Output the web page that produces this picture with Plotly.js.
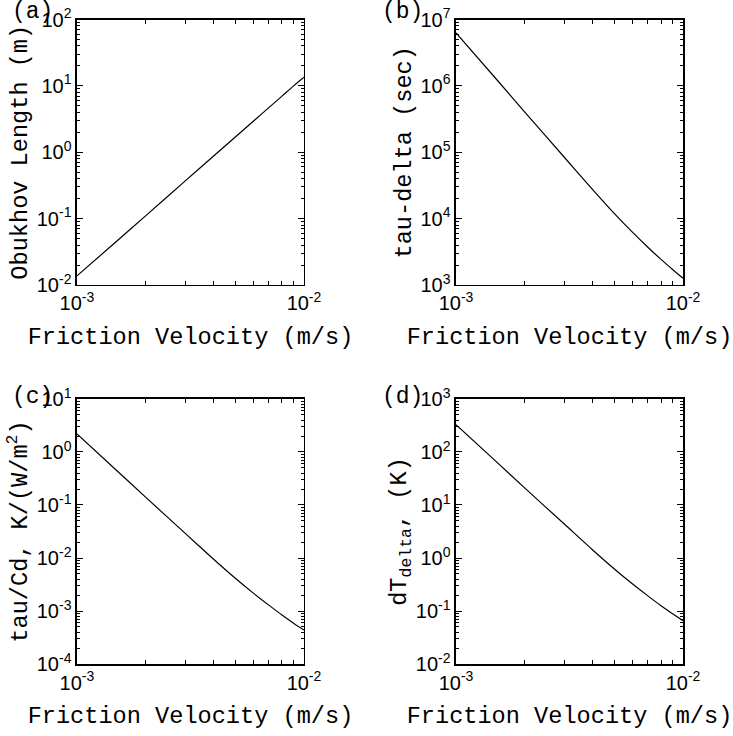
<!DOCTYPE html>
<html>
<head>
<meta charset="utf-8">
<script src="https://cdn.plot.ly/plotly-3.0.1.min.js"></script>
<style>
  body { margin: 0; padding: 0; background: white; }
  #graph { width: 733px; height: 736px; }
</style>
</head>
<body>
<div id="graph"></div>
<script>
// friction velocity (m/s), shared by all four panels
var uStar = [0.001, 0.0015, 0.002, 0.003, 0.004, 0.005, 0.006, 0.007, 0.008, 0.009, 0.01];

// values
var obukhovLength = [0.0137, 0.046, 0.109, 0.37, 0.876, 1.71, 2.96, 4.7, 7.0, 9.99, 13.5];
var tauDelta = [6.3e6, 1.28e6, 4.1e5, 8.4e4, 2.74e4, 1.18e4, 6.2e3, 3.71e3, 2.43e3, 1.71e3, 1.26e3];
var tauOverCd = [2.19, 0.444, 0.142, 0.0291, 0.00948, 0.0041, 0.00215, 0.00129, 8.4e-4, 5.9e-4, 4.37e-4];
var dTdelta = [328, 66.5, 21.3, 4.37, 1.42, 0.615, 0.323, 0.193, 0.126, 0.0889, 0.0655];

// tick labels
var xTickVals = [0.001, 0.01];
var xTickText = ["10<sup>-3</sup>", "10<sup>-2</sup>"];
var yTickValsA = [0.01, 0.1, 1, 10, 100];
var yTickTextA = ["10<sup>-2</sup>", "10<sup>-1</sup>", "10<sup>0</sup>", "10<sup>1</sup>", "10<sup>2</sup>"];
var yTickValsB = [1e3, 1e4, 1e5, 1e6, 1e7];
var yTickTextB = ["10<sup>3</sup>", "10<sup>4</sup>", "10<sup>5</sup>", "10<sup>6</sup>", "10<sup>7</sup>"];
var yTickValsC = [1e-4, 1e-3, 1e-2, 1e-1, 1, 10];
var yTickTextC = ["10<sup>-4</sup>", "10<sup>-3</sup>", "10<sup>-2</sup>", "10<sup>-1</sup>", "10<sup>0</sup>", "10<sup>1</sup>"];
var yTickValsD = [0.01, 0.1, 1, 10, 100, 1000];
var yTickTextD = ["10<sup>-2</sup>", "10<sup>-1</sup>", "10<sup>0</sup>", "10<sup>1</sup>", "10<sup>2</sup>", "10<sup>3</sup>"];

var titleFont = {family: "Liberation Mono, monospace", size: 23.6, color: "black"};
var tickFont = {family: "Liberation Sans, Arial, sans-serif", size: 20, color: "black"};

drawGraph();

// minor ticks at 2..9 in every decade between lo and hi (exponents)
function minorTicks(lo, hi)
{
    var vals = [];
    for (var d = lo; d < hi; d++) {
        for (var k = 2; k <= 9; k++) {
            vals.push(k * Math.pow(10, d));
        }
    }
    return vals;
}

function makeXAxis(domain, anchor)
{
    return {
        type: "log",
        domain: domain,
        anchor: anchor,
        range: [-3, -2],
        tickmode: "array",
        tickvals: xTickVals,
        ticktext: xTickText,
        ticks: "inside",
        ticklen: 6,
        tickwidth: 1,
        tickcolor: "black",
        minor: {tickmode: "array", tickvals: minorTicks(-3, -2), ticks: "inside", ticklen: 4, tickcolor: "black", showgrid: false},
        showline: true,
        linecolor: "black",
        linewidth: 1.5,
        mirror: "allticks",
        showgrid: false,
        zeroline: false,
        tickfont: tickFont,
        title: {text: "Friction Velocity (m/s)", font: titleFont, standoff: 14}
    };
}

function makeYAxis(domain, anchor, lo, hi, vals, text, title)
{
    return {
        type: "log",
        domain: domain,
        anchor: anchor,
        range: [lo, hi],
        tickmode: "array",
        tickvals: vals,
        ticktext: text,
        ticks: "inside",
        ticklen: 6,
        tickwidth: 1,
        tickcolor: "black",
        minor: {tickmode: "array", tickvals: minorTicks(lo, hi), ticks: "inside", ticklen: 3, tickcolor: "black", showgrid: false},
        showline: true,
        linecolor: "black",
        linewidth: 1.5,
        mirror: "allticks",
        showgrid: false,
        zeroline: false,
        tickfont: tickFont,
        title: {text: title, font: titleFont, standoff: 2}
    };
}

function drawGraph()
{
    var lineStyle = {color: "black", width: 1.2, shape: "spline", smoothing: 0.8};

    var panelA = {x: uStar, y: obukhovLength, type: "scatter", mode: "lines", line: lineStyle, xaxis: "x", yaxis: "y"};
    var panelB = {x: uStar, y: tauDelta, type: "scatter", mode: "lines", line: lineStyle, xaxis: "x2", yaxis: "y2"};
    var panelC = {x: uStar, y: tauOverCd, type: "scatter", mode: "lines", line: lineStyle, xaxis: "x3", yaxis: "y3"};
    var panelD = {x: uStar, y: dTdelta, type: "scatter", mode: "lines", line: lineStyle, xaxis: "x4", yaxis: "y4"};

    var data = [panelA, panelB, panelC, panelD];

    var leftCol = [0.105, 0.4147];
    var rightCol = [0.6221, 0.9318];
    var topRow = [0.6128, 0.9735];
    var bottomRow = [0.0978, 0.4579];

    var labelFont = {family: "Liberation Mono, monospace", size: 23, color: "black"};

    var layout = {
        width: 733,
        height: 736,
        margin: {l: 0, r: 0, t: 0, b: 0},
        paper_bgcolor: "white",
        plot_bgcolor: "white",
        showlegend: false,
        xaxis: makeXAxis(leftCol, "y"),
        yaxis: makeYAxis(topRow, "x", -2, 2, yTickValsA, yTickTextA, "Obukhov Length (m)"),
        xaxis2: makeXAxis(rightCol, "y2"),
        yaxis2: makeYAxis(topRow, "x2", 3, 7, yTickValsB, yTickTextB, "tau-delta (sec)"),
        xaxis3: makeXAxis(leftCol, "y3"),
        yaxis3: makeYAxis(bottomRow, "x3", -4, 1, yTickValsC, yTickTextC, "tau/Cd, K/(W/m<sup>2</sup>)"),
        xaxis4: makeXAxis(rightCol, "y4"),
        yaxis4: makeYAxis(bottomRow, "x4", -2, 3, yTickValsD, yTickTextD, "dT<sub>delta</sub>, (K)"),
        annotations: [
            {text: "(a)", xref: "paper", yref: "paper", x: 0.014, y: 0.984, xanchor: "left", yanchor: "middle", showarrow: false, font: labelFont},
            {text: "(b)", xref: "paper", yref: "paper", x: 0.519, y: 0.984, xanchor: "left", yanchor: "middle", showarrow: false, font: labelFont},
            {text: "(c)", xref: "paper", yref: "paper", x: 0.014, y: 0.461, xanchor: "left", yanchor: "middle", showarrow: false, font: labelFont},
            {text: "(d)", xref: "paper", yref: "paper", x: 0.519, y: 0.461, xanchor: "left", yanchor: "middle", showarrow: false, font: labelFont}
        ]
    };

    Plotly.newPlot("graph", data, layout, {staticPlot: true});
}
</script>
</body>
</html>
